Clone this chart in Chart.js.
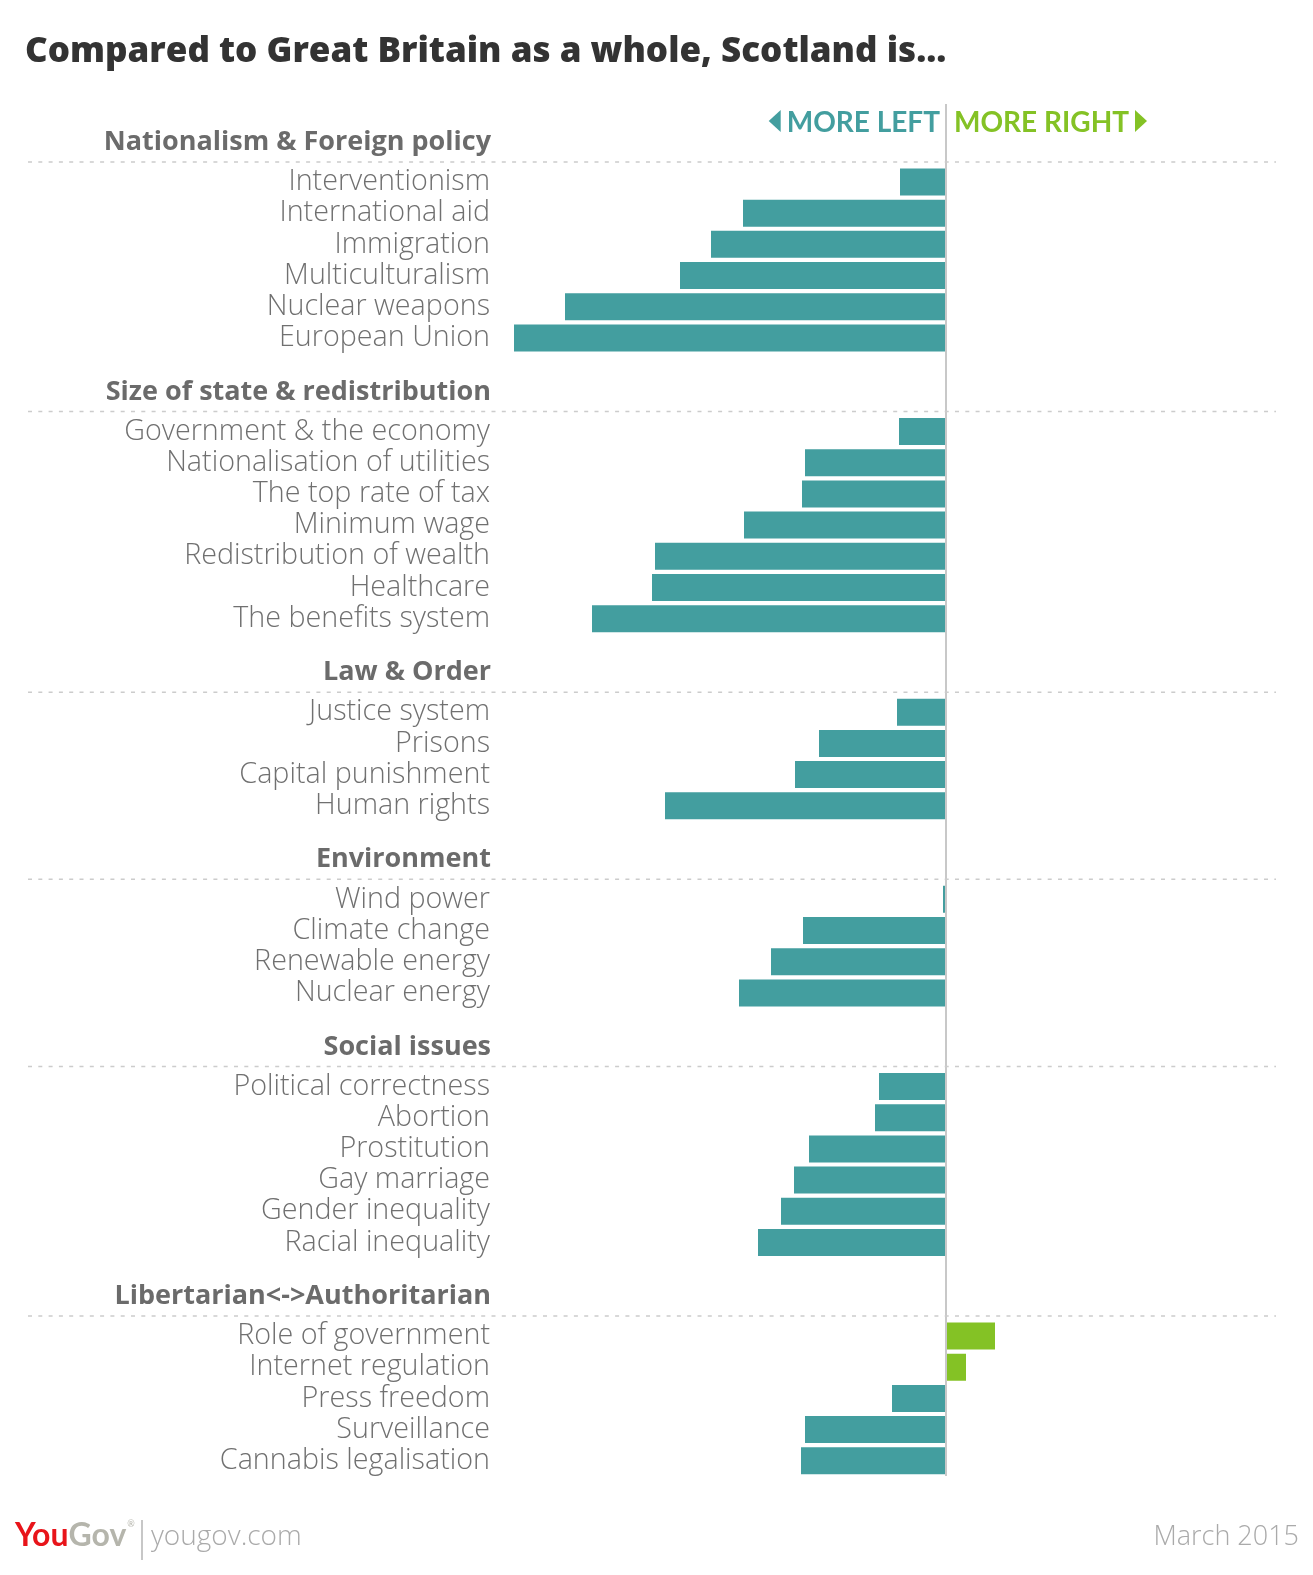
<!DOCTYPE html>
<html>
<head>
<meta charset="utf-8">
<script src="https://cdn.jsdelivr.net/npm/chart.js@4.4.1/dist/chart.umd.min.js"></script>
<style>
  html, body { margin: 0; padding: 0; background: #fff; }
  #wrap { width: 1313px; height: 1575px; }
</style>
</head>
<body>
<div id="wrap"><canvas id="myChart" width="1313" height="1575"></canvas></div>
<script>
// groups (section headers)
const groups = [
  'Nationalism & Foreign policy',
  'Size of state & redistribution',
  'Law & Order',
  'Environment',
  'Social issues',
  'Libertarian<->Authoritarian',
];

// items and values per group (negative = more left, positive = more right)
const nationalismItems = ['Interventionism', 'International aid', 'Immigration', 'Multiculturalism', 'Nuclear weapons', 'European Union'];
const nationalismValues = [-4.6, -20.3, -23.5, -26.6, -38.1, -43.2];

const stateItems = ['Government & the economy', 'Nationalisation of utilities', 'The top rate of tax', 'Minimum wage', 'Redistribution of wealth', 'Healthcare', 'The benefits system'];
const stateValues = [-4.7, -14.1, -14.4, -20.2, -29.1, -29.4, -35.4];

const lawItems = ['Justice system', 'Prisons', 'Capital punishment', 'Human rights'];
const lawValues = [-4.9, -12.7, -15.1, -28.1];

const environmentItems = ['Wind power', 'Climate change', 'Renewable energy', 'Nuclear energy'];
const environmentValues = [-0.3, -14.3, -17.5, -20.7];

const socialItems = ['Political correctness', 'Abortion', 'Prostitution', 'Gay marriage', 'Gender inequality', 'Racial inequality'];
const socialValues = [-6.7, -7.1, -13.7, -15.2, -16.5, -18.8];

const libertarianItems = ['Role of government', 'Internet regulation', 'Press freedom', 'Surveillance', 'Cannabis legalisation'];
const libertarianValues = [4.9, 2.0, -5.4, -14.1, -14.5];

const TEAL = '#439e9f';
const GREEN = '#84c225';

// build the category list: two empty slots before every group for its header
const groupItems = [nationalismItems, stateItems, lawItems, environmentItems, socialItems, libertarianItems];
const groupValues = [nationalismValues, stateValues, lawValues, environmentValues, socialValues, libertarianValues];
const labels = [];
const values = [];
const groupStart = [];
groupItems.forEach((items, g) => {
  labels.push('', '');
  values.push(null, null);
  groupStart.push(labels.length);
  items.forEach((item, i) => {
    labels.push(item);
    values.push(groupValues[g][i]);
  });
});

// headers, dotted rules, left/right key and footer
const decorations = {
  id: 'decorations',
  beforeDatasetsDraw(chart) {
    const { ctx, scales: { y } } = chart;
    ctx.save();
    groups.forEach((name, g) => {
      const rowY = y.getPixelForValue(groupStart[g]);
      ctx.strokeStyle = '#cccccc';
      ctx.lineWidth = 1.5;
      ctx.setLineDash([4, 6.3]);
      ctx.beginPath();
      ctx.moveTo(28, rowY - 20);
      ctx.lineTo(1276, rowY - 20);
      ctx.stroke();
      ctx.setLineDash([]);
      ctx.font = '700 27px "Open Sans"';
      ctx.fillStyle = '#6b6b6b';
      ctx.textAlign = 'right';
      ctx.textBaseline = 'alphabetic';
      ctx.fillText(name, 491, rowY - 32);
    });
    ctx.restore();
  },
  afterDraw(chart) {
    const { ctx, scales: { x } } = chart;
    const zero = x.getPixelForValue(0);
    ctx.save();
    ctx.textBaseline = 'alphabetic';
    ctx.font = 'bold 28px Lato';

    // MORE LEFT
    ctx.fillStyle = TEAL;
    ctx.textAlign = 'right';
    ctx.fillText('MORE LEFT', zero - 6, 132);
    const wl = ctx.measureText('MORE LEFT').width;
    const tl = zero - 6 - wl - 6;
    ctx.beginPath();
    ctx.moveTo(tl, 110);
    ctx.lineTo(tl, 132);
    ctx.lineTo(tl - 12, 121);
    ctx.closePath();
    ctx.fill();

    // MORE RIGHT
    ctx.fillStyle = GREEN;
    ctx.textAlign = 'left';
    ctx.fillText('MORE RIGHT', zero + 8, 132);
    const wr = ctx.measureText('MORE RIGHT').width;
    const tr = zero + 8 + wr + 6;
    ctx.beginPath();
    ctx.moveTo(tr, 110);
    ctx.lineTo(tr, 132);
    ctx.lineTo(tr + 12, 121);
    ctx.closePath();
    ctx.fill();

    // footer
    ctx.textAlign = 'left';
    ctx.font = 'bold 32px Lato';
    ctx.fillStyle = '#e8141a';
    ctx.fillText('You', 15, 1546);
    const wy = ctx.measureText('You').width;
    ctx.fillStyle = '#b5b5ac';
    ctx.fillText('Gov', 15 + wy, 1546);
    const wg = ctx.measureText('Gov').width;
    ctx.font = '9px Lato';
    ctx.fillText('®', 15 + wy + wg + 1, 1527);
    ctx.strokeStyle = '#b5b5b5';
    ctx.lineWidth = 1.5;
    ctx.beginPath();
    ctx.moveTo(142, 1520);
    ctx.lineTo(142, 1560);
    ctx.stroke();
    ctx.font = '300 28px "Open Sans"';
    ctx.fillStyle = '#aaaaaa';
    ctx.fillText('yougov.com', 151, 1545);
    ctx.font = '300 27px "Open Sans"';
    ctx.textAlign = 'right';
    ctx.fillText('March 2015', 1299, 1545);
    ctx.restore();
  },
};

const chart = new Chart(document.getElementById('myChart'), {
  type: 'bar',
  data: {
    labels: labels,
    datasets: [
      {
        data: values,
        backgroundColor: values.map((v) => (v > 0 ? GREEN : TEAL)),
        borderWidth: 0,
        barPercentage: 0.866,
        categoryPercentage: 1,
      },
    ],
  },
  options: {
    indexAxis: 'y',
    responsive: false,
    animation: false,
    devicePixelRatio: 1,
    layout: {
      padding: { left: 25, right: 37, top: 0, bottom: 98.6 },
    },
    plugins: {
      legend: { display: false },
      tooltip: { enabled: false },
      title: {
        display: true,
        text: 'Compared to Great Britain as a whole, Scotland is...',
        align: 'start',
        color: '#333333',
        font: { family: 'Open Sans', size: 35, weight: '800', lineHeight: 1.2 },
        padding: { top: 31, bottom: 31 },
      },
    },
    scales: {
      x: {
        min: -44.6,
        max: 33.0,
        z: 1,
        ticks: { display: false, stepSize: 10 },
        border: { display: false },
        grid: {
          drawTicks: false,
          lineWidth: 2,
          color: (ctx) => (ctx.tick && ctx.tick.value === 0 ? '#c8c8c8' : 'rgba(0,0,0,0)'),
        },
        afterFit: (scale) => {
          scale.height = 0;
        },
      },
      y: {
        grid: { display: false },
        border: { display: false },
        ticks: {
          autoSkip: false,
          padding: 2,
          color: '#707070',
          font: { family: 'Open Sans', size: 28.7, weight: '300' },
        },
        afterFit: (scale) => {
          scale.width = 475;
        },
      },
    },
  },
  plugins: [decorations],
});
</script>
</body>
</html>
